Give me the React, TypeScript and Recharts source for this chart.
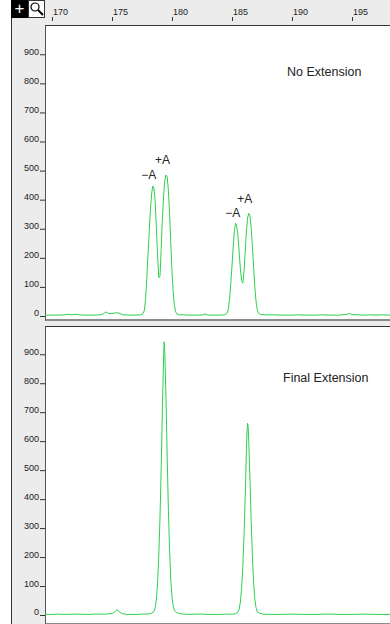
import React from "react";
import {LineChart, Line, XAxis, YAxis, ReferenceDot} from "recharts";

// size in bp along the ruler, RFU on the left
const rulerTicks = [170, 175, 180, 185, 190, 195];
const rfuTicks = [0, 100, 200, 300, 400, 500, 600, 700, 800, 900];

const noExtBp = [
    169.4, 170, 170.5, 171, 171.3, 171.6, 172, 172.3, 172.7, 173,
    173.5, 174, 174.3, 174.5, 174.7, 175, 175.3, 175.6, 175.9, 176.5,
    177, 177.4, 177.6, 177.7, 177.8, 177.9, 178.0, 178.1, 178.2, 178.3,
    178.4, 178.5, 178.6, 178.7, 178.8, 178.9, 179.0, 179.1, 179.2, 179.3,
    179.4, 179.5, 179.6, 179.7, 179.8, 179.9, 180.0, 180.1, 180.2, 180.3,
    180.4, 180.6, 181, 181.5, 182, 182.5, 182.75, 183, 183.5, 184,
    184.4, 184.6, 184.7, 184.8, 184.9, 185.0, 185.1, 185.2, 185.3, 185.4,
    185.5, 185.6, 185.7, 185.8, 185.9, 186.0, 186.1, 186.2, 186.3, 186.4,
    186.5, 186.6, 186.7, 186.8, 186.9, 187.0, 187.1, 187.2, 187.4, 187.8,
    188.5, 189, 190, 190.5, 191, 192, 192.5, 193, 194, 194.6,
    194.8, 195, 195.5, 196, 196.5, 197, 197.5, 198.2,
];
const noExtRfu = [
    3, 3, 3, 4, 6, 4, 6, 4, 3, 3,
    3, 4, 8, 14, 9, 8, 11, 10, 4, 3,
    3, 4, 8, 20, 60, 130, 210, 290, 365, 420,
    447, 438, 392, 302, 205, 132, 136, 232, 335, 415,
    465, 485, 478, 432, 352, 252, 152, 82, 36, 15,
    7, 4, 4, 3, 3, 3, 7, 3, 3, 3,
    4, 10, 25, 60, 112, 172, 238, 294, 319, 309,
    274, 218, 162, 122, 113, 152, 222, 292, 338, 353,
    344, 304, 238, 168, 102, 52, 22, 10, 5, 4,
    4, 3, 3, 4, 3, 3, 4, 3, 3, 6,
    9, 5, 4, 3, 4, 3, 4, 3,
];

const finalBp = [
    169.4, 170, 170.5, 171, 172, 173, 173.5, 174, 174.5, 175,
    175.2, 175.4, 175.6, 175.8, 176.2, 177, 177.5, 178, 178.3, 178.5,
    178.6, 178.7, 178.8, 178.9, 179.0, 179.1, 179.2, 179.3, 179.35, 179.4,
    179.5, 179.6, 179.7, 179.8, 179.9, 180.0, 180.1, 180.2, 180.4, 180.6,
    181, 181.5, 182, 182.5, 183, 184, 184.5, 185, 185.3, 185.5,
    185.6, 185.7, 185.8, 185.9, 186.0, 186.1, 186.2, 186.25, 186.3, 186.35,
    186.4, 186.5, 186.6, 186.7, 186.8, 186.9, 187.0, 187.1, 187.3, 187.6,
    188, 189, 190, 191, 192, 193, 194, 195, 196, 197,
    198.2,
];
const finalRfu = [
    2, 2, 3, 2, 3, 2, 3, 3, 3, 5,
    10, 18, 12, 5, 2, 2, 3, 3, 6, 12,
    25, 55, 112, 205, 335, 505, 710, 890, 943, 908,
    748, 545, 362, 222, 122, 62, 30, 16, 8, 5,
    3, 2, 3, 3, 2, 2, 3, 3, 4, 10,
    20, 45, 92, 165, 275, 405, 565, 628, 662, 648,
    598, 465, 325, 202, 112, 56, 26, 12, 6, 3,
    2, 2, 3, 2, 2, 3, 2, 2, 3, 2,
    2,
];

const peakLabels = [
    {bp: 178.06, rfu: 471, text: "−A"},
    {bp: 179.21, rfu: 523, text: "+A"},
    {bp: 185.07, rfu: 340, text: "−A"},
    {bp: 186.07, rfu: 389, text: "+A"},
];

const noExtData = noExtBp.map((bp, i) => ({bp, rfu: noExtRfu[i]}));
const finalData = finalBp.map((bp, i) => ({bp, rfu: finalRfu[i]}));

const font = "'Liberation Sans', Arial, sans-serif";
const green = "#2bd14f";
const bpDomain = [169.417, 198.167];

const RfuTick = (p: any) => (
    <g>
        <text x={39} y={p.y + 0.5} textAnchor="end" fontSize={9} fill="#222" fontFamily={font}>
            {p.payload.value}
        </text>
        <line x1={40} x2={45} y1={p.y + 0.5} y2={p.y + 0.5} stroke="#333"/>
    </g>
);

const RulerTick = (p: any) => (
    <g>
        <text x={p.x + 1} y={15} fontSize={9} fill="#222" fontFamily={font}>{p.payload.value}</text>
        <line x1={p.x + 0.5} x2={p.x + 0.5} y1={17} y2={21} stroke="#333"/>
    </g>
);

const abs = (s: React.CSSProperties): React.CSSProperties => ({position: "absolute", ...s});

const App = () => {
    return (
        <div style={abs({left: 0, top: 0, width: 390, height: 624, background: "#ececec", overflow: "hidden"})}>
            <div style={abs({left: 0, top: 0, width: 11, height: 624, background: "#fff"})}/>
            <div style={abs({left: 11, top: 0, width: 1, height: 624, background: "#333"})}/>
            {/* toolbar icons */}
            <div style={abs({left: 11, top: 0, width: 17, height: 18, background: "#000", color: "#fff",
                fontFamily: font, fontSize: 17, lineHeight: "17px", textAlign: "center"})}>+</div>
            <svg style={abs({left: 28, top: 0})} width={17} height={18}>
                <rect x={0.5} y={0.5} width={16} height={17} fill="#fff" stroke="#333"/>
                <circle cx={7} cy={7} r={4} fill="none" stroke="#000" strokeWidth={1.2}/>
                <line x1={10} y1={10} x2={15} y2={15} stroke="#000" strokeWidth={2}/>
            </svg>

            {/* panel frames */}
            <div style={abs({left: 45, top: 25, width: 345, height: 293, background: "#fff",
                borderTop: "1px solid #333", borderLeft: "1px solid #555", borderBottom: "2px solid #8c8c8c"})}/>
            <div style={abs({left: 45, top: 326, width: 345, height: 296, background: "#fff",
                borderTop: "1px solid #333", borderLeft: "1px solid #555", borderBottom: "2px solid #8c8c8c"})}/>

            <div style={abs({left: 0, top: 0})}>
                <LineChart width={390} height={318} data={noExtData}
                           margin={{top: 0, right: 0, left: 0, bottom: 0}}>
                    <XAxis dataKey="bp" type="number" orientation="top" height={26} domain={bpDomain}
                           allowDataOverflow ticks={rulerTicks} tick={<RulerTick/>}
                           axisLine={false} tickLine={false} interval={0}/>
                    <YAxis type="number" width={45} domain={[-6.9, 997.2]} allowDataOverflow
                           ticks={rfuTicks} tick={<RfuTick/>} axisLine={false} tickLine={false} interval={0}/>
                    <Line type="linear" dataKey="rfu" stroke={green} strokeWidth={1} dot={false}
                          isAnimationActive={false}/>
                    {peakLabels.map((l, i) => (
                        <ReferenceDot key={i} x={l.bp} y={l.rfu} r={1}
                                      shape={(p: any) => (
                                          <text x={p.cx} y={p.cy} textAnchor="middle" fontSize={12}
                                                fill="#222" fontFamily={font}>{l.text}</text>
                                      )}/>
                    ))}
                </LineChart>
            </div>
            <div style={abs({left: 287, top: 65, fontFamily: font, fontSize: 12.5, color: "#222",
                whiteSpace: "nowrap"})}>No Extension</div>

            <div style={abs({left: 0, top: 327})}>
                <LineChart width={390} height={295} data={finalData}
                           margin={{top: 0, right: 0, left: 0, bottom: 0}}>
                    <XAxis dataKey="bp" type="number" domain={bpDomain} allowDataOverflow hide/>
                    <YAxis type="number" width={45} domain={[-24.2, 994.1]} allowDataOverflow
                           ticks={rfuTicks} tick={<RfuTick/>} axisLine={false} tickLine={false} interval={0}/>
                    <Line type="linear" dataKey="rfu" stroke={green} strokeWidth={1} dot={false}
                          isAnimationActive={false}/>
                </LineChart>
            </div>
            <div style={abs({left: 283, top: 371, fontFamily: font, fontSize: 12.5, color: "#222",
                whiteSpace: "nowrap"})}>Final Extension</div>
        </div>
    );
};

export default App;
